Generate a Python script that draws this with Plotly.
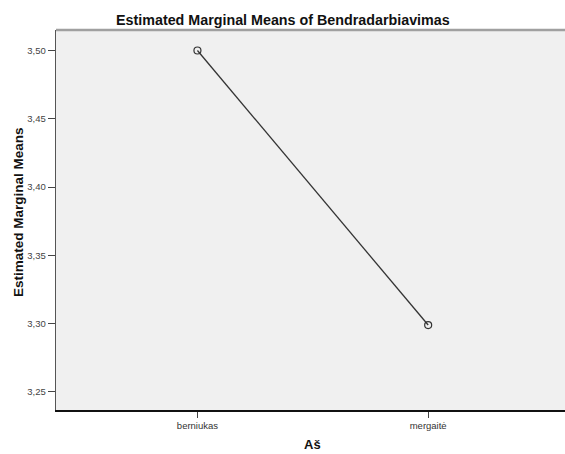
import plotly.graph_objects as go

categories = ["berniukas", "mergaitė"]
means = [3.500, 3.299]
y_ticks = [3.25, 3.30, 3.35, 3.40, 3.45, 3.50]
y_tick_labels = ["3,25", "3,30", "3,35", "3,40", "3,45", "3,50"]

W, H = 565, 454
L, T, B = 56, 30, 44
PW, PH = W - L, H - T - B

fig = go.Figure()
fig.add_trace(go.Scatter(
    x=[0, 1], y=means, mode="lines+markers",
    line=dict(color="#333333", width=1.3),
    marker=dict(symbol="circle-open", size=7, color="#333333", line=dict(width=1.2)),
    hoverinfo="skip", showlegend=False,
))

fig.update_layout(
    width=W, height=H,
    margin=dict(l=L, r=0, t=T, b=B),
    paper_bgcolor="white",
    plot_bgcolor="#F0F0F0",
    font=dict(family="Liberation Sans, Arial, sans-serif", color="#333333"),
    xaxis=dict(
        range=[-0.613, 1.593],
        tickvals=[0, 1], ticktext=categories,
        showgrid=False, zeroline=False,
        showline=True, linecolor="#111111", linewidth=1.5,
        ticks="outside", ticklen=6, tickcolor="#444444", tickwidth=1,
        tickfont=dict(size=9.5, color="#333333"),
    ),
    yaxis=dict(
        range=[3.2368, 3.515],
        tickvals=y_ticks, ticktext=y_tick_labels,
        showgrid=False, zeroline=False,
        showline=True, linecolor="#555555", linewidth=1.3,
        ticks="outside", ticklen=7, tickcolor="#444444", tickwidth=1,
        tickfont=dict(size=9.5, color="#444444"),
    ),
    shapes=[dict(type="line", xref="paper", yref="paper", x0=0, x1=1, y0=1, y1=1,
                 line=dict(color="#A0A0A0", width=2.5))],
    annotations=[
        dict(text="<b>Estimated Marginal Means of Bendradarbiavimas</b>",
             xref="paper", yref="paper", x=(282.5 - L) / PW, y=1, yshift=10,
             xanchor="center", yanchor="middle", showarrow=False,
             font=dict(size=14.3, color="#111111")),
        dict(text="<b>Estimated Marginal Means</b>",
             xref="paper", yref="paper", x=0, xshift=-38, y=(410 - 212) / PH,
             xanchor="center", yanchor="middle", textangle=-90, showarrow=False,
             font=dict(size=13.5, color="#111111")),
        dict(text="<b>Aš</b>",
             xref="paper", yref="paper", x=(312 - L) / PW, y=0, yshift=-34,
             xanchor="center", yanchor="middle", showarrow=False,
             font=dict(size=13, color="#111111")),
    ],
)

fig.write_html(
    "out.html",
    config={"displayModeBar": False, "staticPlot": True},
    post_script="document.body.style.margin='0';document.body.style.overflow='hidden';",
)
